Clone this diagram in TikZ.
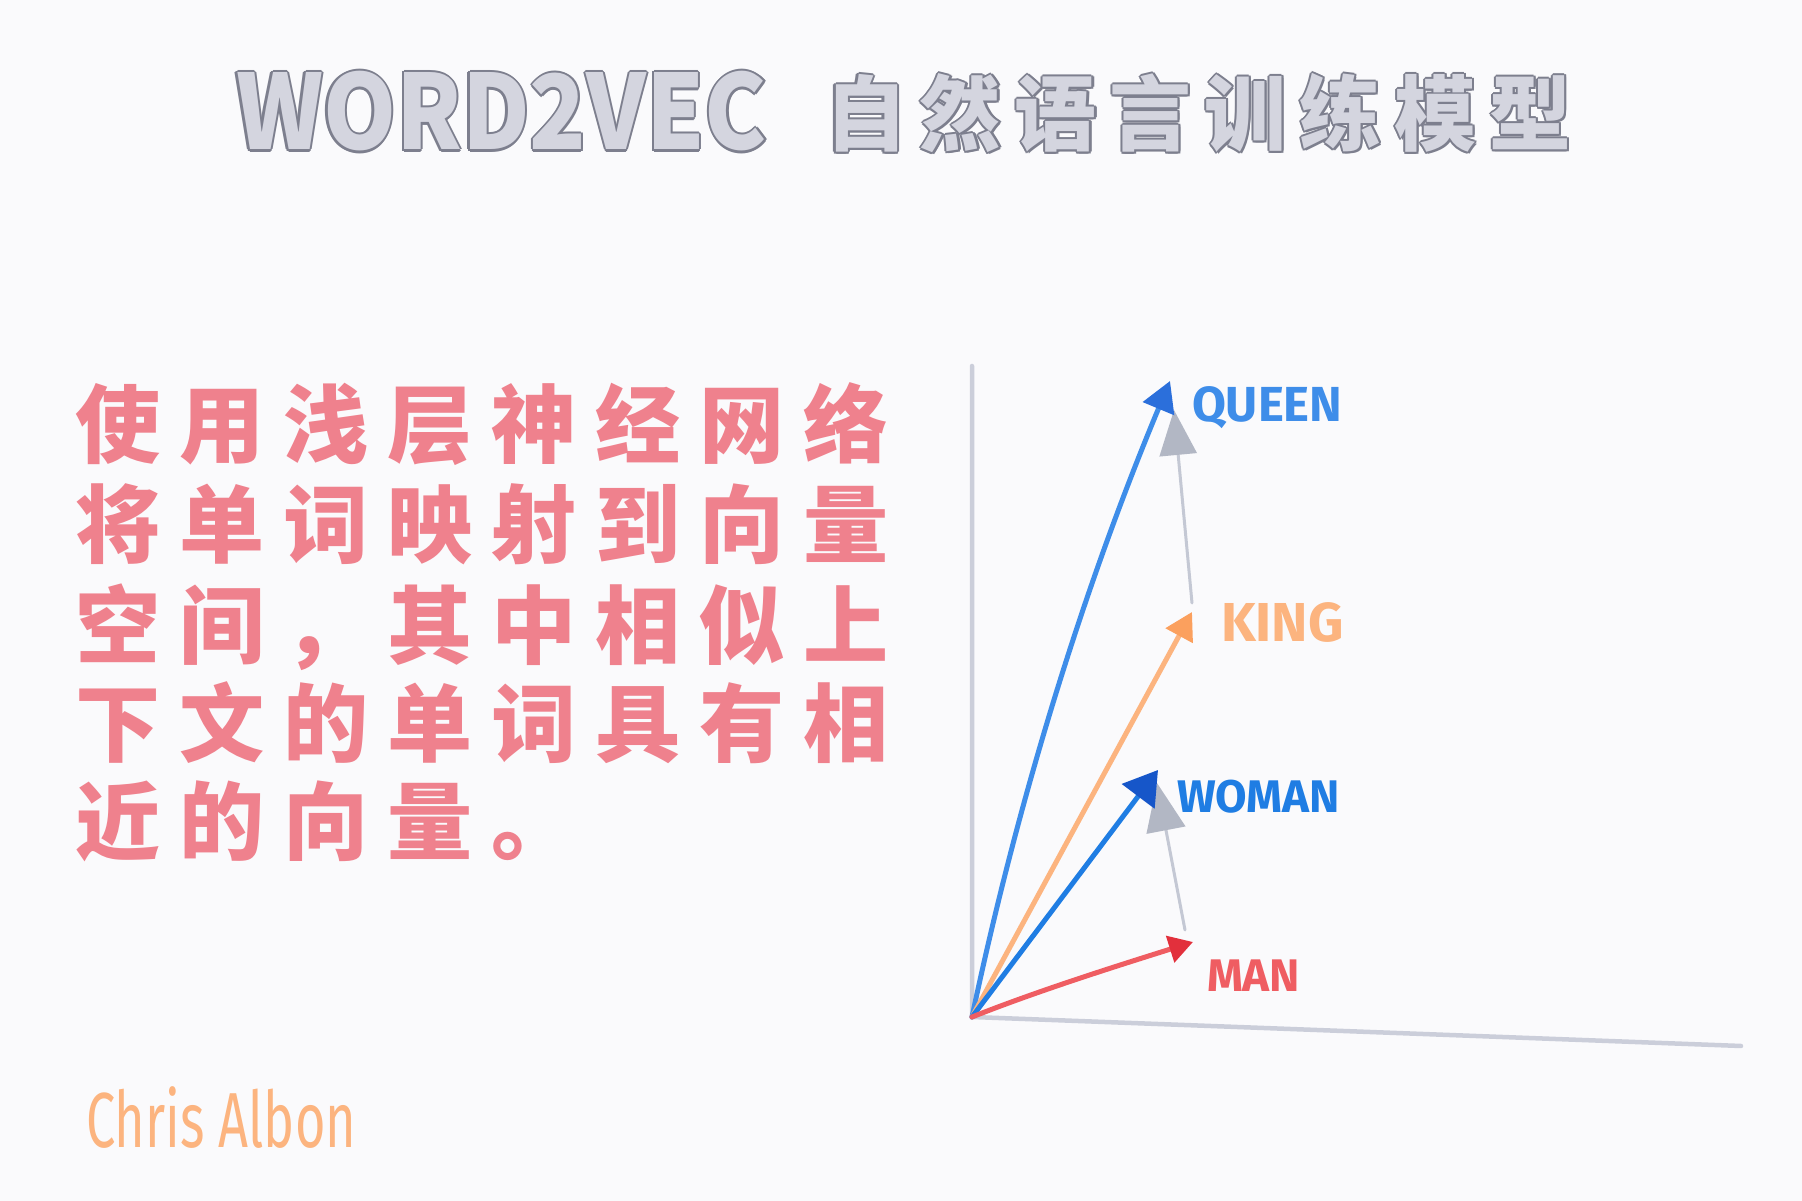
\documentclass[tikz,border=0pt]{standalone}
\usepackage{fontspec}
\usetikzlibrary{arrows.meta}
\newfontfamily\cjkfont{Noto Sans CJK SC}
\newfontfamily\labfont{Fira Sans}
\definecolor{bgc}{RGB}{250,250,252}
\definecolor{tfill}{RGB}{212,213,223}
\definecolor{tline}{RGB}{125,127,142}
\definecolor{pinkc}{RGB}{239,129,141}
\definecolor{queenc}{RGB}{62,141,233}
\definecolor{queenh}{RGB}{43,111,219}
\definecolor{kingc}{RGB}{252,180,127}
\definecolor{kingh}{RGB}{251,160,94}
\definecolor{womanc}{RGB}{31,125,227}
\definecolor{womanh}{RGB}{22,86,201}
\definecolor{manc}{RGB}{239,93,98}
\definecolor{manh}{RGB}{226,48,60}
\definecolor{grayl}{RGB}{196,200,212}
\definecolor{grayh}{RGB}{178,183,196}
\definecolor{axisc}{RGB}{203,206,218}
% letter-spaced text
\def\spc#1{\ifx#1\relax\else#1\hspace{\spcgap}\expandafter\spc\fi}
\newlength\spcgap
% outlined text
\newcommand\olt[1]{{\color{tline}%
\rlap{\kern0.6pt#1}\rlap{\kern-0.6pt#1}%
\rlap{\raisebox{0.6pt}{#1}}\rlap{\raisebox{-0.6pt}{#1}}%
\rlap{\kern0.42pt\raisebox{0.42pt}{#1}}\rlap{\kern-0.42pt\raisebox{0.42pt}{#1}}%
\rlap{\kern0.42pt\raisebox{-0.42pt}{#1}}\rlap{\kern-0.42pt\raisebox{-0.42pt}{#1}}}%
{\color{tfill}#1}}
\begin{document}
\begin{tikzpicture}[x=0.01cm,y=-0.01cm,
  every node/.style={inner sep=0pt, outer sep=0pt},
  bodytxt/.style={font=\cjkfont\bfseries\fontsize{24.2pt}{28pt}\selectfont\setlength\spcgap{1.9mm}, text=pinkc, anchor=base west},
  lab/.style={anchor=base west},
  vec/.style={line width=0.5mm, line cap=round},
  gvec/.style={line width=0.3mm, line cap=round, draw=grayl},
  axisline/.style={line width=0.45mm, draw=axisc, line cap=round}]
\useasboundingbox (0,0) rectangle (1802,1201);
\fill[bgc] (0,0) rectangle (1802,1201);

% title
\node[anchor=base west] (title) at (236,150) {\olt{{\cjkfont\bfseries\fontsize{29.4pt}{32pt}\selectfont\scalebox{0.9}[1]{WORD2VEC}}\hspace{5.8mm}\raisebox{1.5pt}{\cjkfont\bfseries\fontsize{23.3pt}{27pt}\selectfont\setlength\spcgap{1.3mm}\spc 自然语言训练模型\relax}}};

% body text
\node[bodytxt] (b1) at (75,457) {\spc 使用浅层神经网络\relax};
\node[bodytxt] (b2) at (75,557) {\spc 将单词映射到向量\relax};
\node[bodytxt] (b3) at (75,658) {\spc 空间，其中相似上\relax};
\node[bodytxt] (b4) at (75,756) {\spc 下文的单词具有相\relax};
\node[bodytxt] (b5) at (75,854) {\spc 近的向量。\relax};

% signature
\node[lab, text=kingc, font=\labfont\fontsize{22.2pt}{24pt}\selectfont] (sig) at (86,1148) {\scalebox{0.67}[1]{Chris Albon}};

% axes
\coordinate (O) at (972,1017);
\coordinate (ytop) at (972,366);
\coordinate (xend) at (1741,1046);
\draw[axisline] (ytop) -- (O) -- (xend);

% vectors
\coordinate (Q) at (1170,381);
\coordinate (K) at (1192,612);
\coordinate (W) at (1158,770);
\coordinate (M) at (1193,942);
\coordinate (Kg) at (1192,603);
\coordinate (Qg) at (1174,410);
\coordinate (Mg) at (1185,930);
\coordinate (Wg) at (1157,783);

\draw[gvec, -{Triangle[length=4.5mm,width=3.7mm,color=grayh]}] (Kg) -- (Qg);
\draw[gvec, -{Triangle[length=4.8mm,width=3.9mm,color=grayh]}] (Mg) -- (Wg);

\draw[vec, draw=queenc, -{Triangle[length=3mm,width=3.3mm,color=queenh]}] (O) .. controls (1018,799) and (1084,587) .. (Q);
\draw[vec, draw=kingc, -{Triangle[length=2.7mm,width=3mm,color=kingh]}] (O) -- (K);
\draw[vec, draw=womanc, -{Triangle[length=3.3mm,width=4mm,color=womanh]}] (O) -- (W);
\draw[vec, draw=manc, -{Triangle[length=2.4mm,width=2.7mm,color=manh]}] (O) .. controls (1040,990) and (1120,965) .. (M);

% labels
\node[lab, text=queenc, font=\labfont\bfseries\fontsize{14pt}{16pt}\selectfont] (lq) at (1192,422) {QUEEN};
\node[lab, text=kingc, font=\labfont\bfseries\fontsize{15.6pt}{18pt}\selectfont] (lk) at (1221,642) {KING};
\node[lab, text=womanc, font=\labfont\bfseries\fontsize{13pt}{15pt}\selectfont] (lw) at (1177,813) {WOMAN};
\node[lab, text=manc, font=\labfont\bfseries\fontsize{13pt}{15pt}\selectfont] (lm) at (1207,992) {MAN};
\end{tikzpicture}
\end{document}
